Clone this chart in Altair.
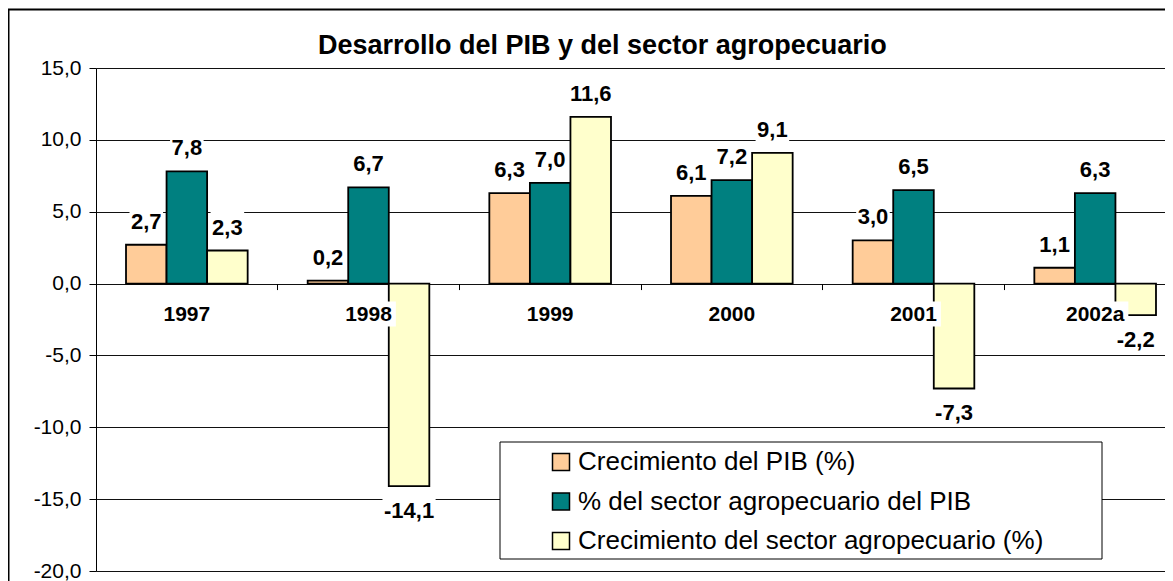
import altair as alt
import pandas as pd

years = ["1997", "1998", "1999", "2000", "2001", "2002a"]
series = ["Crecimiento del PIB (%)",
          "% del sector agropecuario del PIB",
          "Crecimiento del sector agropecuario (%)"]
pib_growth = [2.7, 0.2, 6.3, 6.1, 3.0, 1.1]
agro_share = [7.8, 6.7, 7.0, 7.2, 6.5, 6.3]
agro_growth = [2.3, -14.1, 11.6, 9.1, -7.3, -2.2]
colors = ["#FFCC99", "#008080", "#FFFFCC"]
y_ticks = [-20, -15, -10, -5, 0, 5, 10, 15]

rows = []
for s, vals in zip(series, [pib_growth, agro_share, agro_growth]):
    for yr, v in zip(years, vals):
        rows.append({"year": yr, "series": s, "value": v,
                     "label": f"{v:.1f}".replace(".", ",")})
df = pd.DataFrame(rows)
cats = pd.DataFrame({"year": years, "zero": [0] * len(years)})

FONT = "Liberation Sans"
W, H = 1069, 503
FULL_W = 1090

xenc = alt.X("year:N", sort=years,
             scale=alt.Scale(range=[0, FULL_W], paddingInner=0, paddingOuter=0),
             axis=alt.Axis(title=None, labels=False, domain=False, grid=False,
                           ticks=True, tickColor="black", tickSize=6, tickWidth=1,
                           bandPosition=0, offset=-H * 20 / 35))
xoff = alt.XOffset("series:N", sort=series,
                   scale=alt.Scale(paddingInner=0, paddingOuter=0.74))
yenc = alt.Y("value:Q",
             scale=alt.Scale(domain=[-20, 15], nice=False, zero=False),
             axis=alt.Axis(title=None, values=y_ticks, grid=True, gridColor="#111111",
                           gridWidth=1, tickColor="black", tickSize=7, domainColor="black",
                           domainWidth=1, labelFont=FONT, labelFontSize=21,
                           labelColor="black", labelPadding=8,
                           labelExpr="replace((datum.value < 0 ? '-' : '') + format(abs(datum.value), '.1f'), '.', ',')"))

base = alt.Chart(df)

bars = base.mark_bar(stroke="black", strokeWidth=1.8).encode(
    x=xenc, xOffset=xoff, y=yenc,
    color=alt.Color("series:N", sort=series,
                    scale=alt.Scale(domain=series, range=colors),
                    legend=alt.Legend(title=None, orient="none", direction="vertical",
                                      legendX=452, legendY=381, padding=0,
                                      symbolType="square", symbolSize=289,
                                      symbolStrokeColor="black", symbolStrokeWidth=1.5,
                                      labelFont=FONT, labelFontSize=26,
                                      labelColor="black", labelOffset=4,
                                      rowPadding=13.5, labelLimit=700)),
)

legend_box = alt.Chart(alt.Data(values=[{"k": 1}])).mark_rect(
    fill="white", stroke="black", strokeWidth=1
).encode(x=alt.value(404), x2=alt.value(1006), y=alt.value(374), y2=alt.value(491))

width_expr = ("22*(0.556*length(datum.label) - 0.278*(indexof(datum.label, ',')>=0 ? 1 : 0)"
              " - 0.223*(indexof(datum.label, '-')>=0 ? 1 : 0)) + 3")
path_expr = "'M' + (-datum.w/2) + ',-14.5h' + datum.w + 'v29h' + (-datum.w) + 'Z'"

def label_layers(cond, off):
    src = base.transform_filter(cond).transform_calculate(w=width_expr).transform_calculate(p=path_expr)
    box = src.mark_point(filled=True, color="white", opacity=1, size=4,
                         strokeWidth=0, yOffset=off).encode(
        x=alt.X("year:N", sort=years), xOffset=alt.XOffset("series:N", sort=series),
        y="value:Q", shape=alt.Shape("p:N", scale=None))
    txt = src.mark_text(font=FONT, fontSize=22, fontWeight="bold", color="black",
                        baseline="middle", yOffset=off, dy=1).encode(
        x=alt.X("year:N", sort=years), xOffset=alt.XOffset("series:N", sort=series),
        y="value:Q", text="label:N")
    return [box, txt]

pos_layers = label_layers("datum.value >= 0", -24)
neg_layers = label_layers("datum.value < 0", 24)

cat_src = alt.Chart(cats).transform_calculate(label="datum.year").transform_calculate(
    w="21*0.556*length(datum.label) + 8").transform_calculate(
    p="'M' + (-datum.w/2) + ',-12.5h' + datum.w + 'v25h' + (-datum.w) + 'Z'")
cat_box = cat_src.mark_point(filled=True, color="white", opacity=1, size=4,
                             strokeWidth=0, yOffset=30.5).encode(
    x=alt.X("year:N", sort=years), y="zero:Q", shape=alt.Shape("p:N", scale=None))
cat_txt = cat_src.mark_text(font=FONT, fontSize=21, fontWeight="bold", color="black",
                            baseline="middle", yOffset=30.5, dy=1).encode(
    x=alt.X("year:N", sort=years), y="zero:Q", text="year:N")

one = alt.Data(values=[{"k": 1}])
frame_left = alt.Chart(one).mark_rule(color="black", strokeWidth=2).encode(
    x=alt.value(-87.5), y=alt.value(-59), y2=alt.value(520))
frame_top = alt.Chart(one).mark_rule(color="black", strokeWidth=2).encode(
    x=alt.value(-88.5), x2=alt.value(1100), y=alt.value(-58.5))

chart = alt.layer(
    bars, legend_box, *pos_layers, *neg_layers, cat_box, cat_txt, frame_left, frame_top
).properties(
    width=W, height=H,
    title=alt.TitleParams("Desarrollo del PIB y del sector agropecuario",
                          anchor="start", frame="group", dx=222, offset=-73,
                          baseline="alphabetic", font=FONT, fontSize=27,
                          fontWeight="bold", color="black"),
    padding={"left": 88, "top": 60, "right": 0, "bottom": 10},
    autosize=alt.AutoSizeParams(type="none"),
).configure_view(
    fill="#C0C0C0", stroke="#808080", strokeWidth=2
).configure(background="white")

chart.save("out.html", embed_options={"renderer": "svg", "actions": False})
